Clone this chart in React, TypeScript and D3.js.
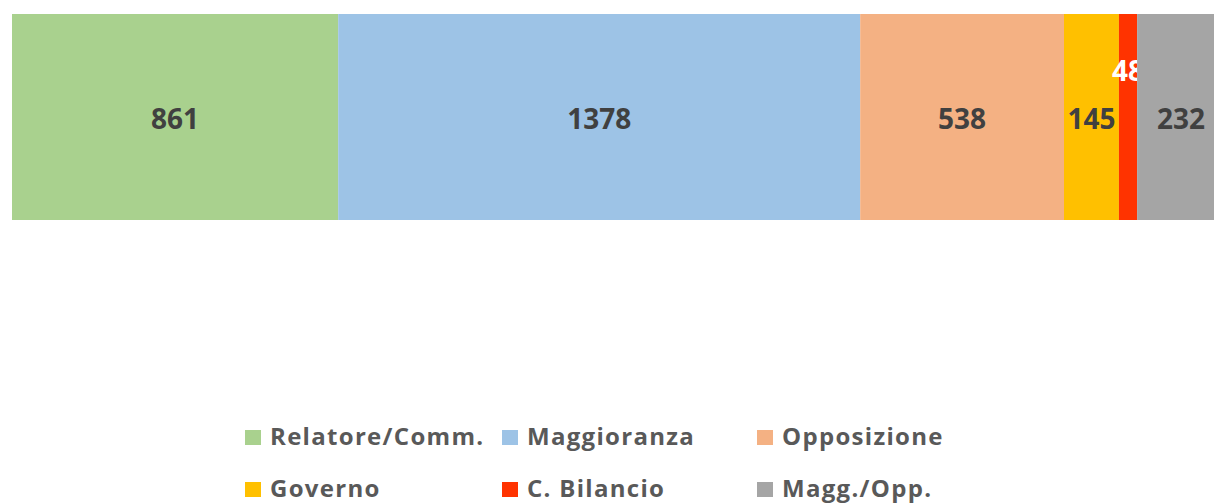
import React, { useEffect, useRef } from 'react';
import * as d3 from 'd3';

const categories = ['Relatore/Comm.', 'Maggioranza', 'Opposizione', 'Governo', 'C. Bilancio', 'Magg./Opp.'];
const values = [861, 1378, 538, 145, 48, 232];
const colors = ['#A9D18E', '#9DC3E6', '#F4B183', '#FFC000', '#FF3300', '#A5A5A5'];

const W = 1214;
const H = 503;

const App = () => {
    const svgRef = useRef<SVGSVGElement | null>(null);

    useEffect(() => {
        document.body.style.margin = '0';
        if (!svgRef.current) return;
        const svg = d3.select(svgRef.current);
        svg.selectAll('*').remove();

        const total = d3.sum(values);
        // the plot area runs a bit past the right edge of the picture (cropped original)
        const x = d3.scaleLinear().domain([0, total]).range([12, 1225]);
        const y = d3.scaleBand().domain(['row']).range([14, 220]).padding(0);

        const row: Record<string, number> = {};
        categories.forEach((c, i) => { row[c] = values[i]; });
        const series = d3.stack<Record<string, number>>().keys(categories)([row]);

        svg.append('rect').attr('width', W).attr('height', H).attr('fill', '#ffffff');

        const seg = svg.selectAll('.seg')
            .data(series)
            .enter()
            .append('g');

        seg.append('rect')
            .attr('x', d => x(d[0][0]))
            .attr('y', y('row') || 0)
            .attr('width', d => x(d[0][1]) - x(d[0][0]))
            .attr('height', y.bandwidth())
            .attr('fill', (d, i) => colors[i]);

        // value labels — the tiny red one sits above in white
        seg.append('text')
            .attr('x', d => (x(d[0][0]) + x(d[0][1])) / 2)
            .attr('y', (d, i) => values[i] < 100 ? 70 : (y('row') || 0) + y.bandwidth() / 2 + 1)
            .attr('dominant-baseline', 'central')
            .attr('text-anchor', 'middle')
            .attr('font-family', "'Open Sans', sans-serif")
            .attr('font-weight', 700)
            .attr('font-size', '28px')
            .attr('fill', (d, i) => values[i] < 100 ? '#ffffff' : '#404040')
            .text((d, i) => values[i]);

        // --- LEGEND ---
        const colX = [245, 502, 757];
        const rowBase = [445, 497];
        const legend = svg.append('g');
        categories.forEach((c, i) => {
            const cx = colX[i % 3];
            const by = rowBase[Math.floor(i / 3)];
            legend.append('rect')
                .attr('x', cx)
                .attr('y', by - 15)
                .attr('width', 16)
                .attr('height', 15)
                .attr('fill', colors[i]);
            legend.append('text')
                .attr('x', cx + 25)
                .attr('y', by)
                .attr('font-family', "'Open Sans', sans-serif")
                .attr('font-weight', 700)
                .attr('font-size', '24px')
                .attr('letter-spacing', '1.3px')
                .attr('fill', '#595959')
                .text(c);
        });
    }, []);

    return <svg ref={svgRef} width={W} height={H} style={{ display: 'block' }} />;
};

export default App;
